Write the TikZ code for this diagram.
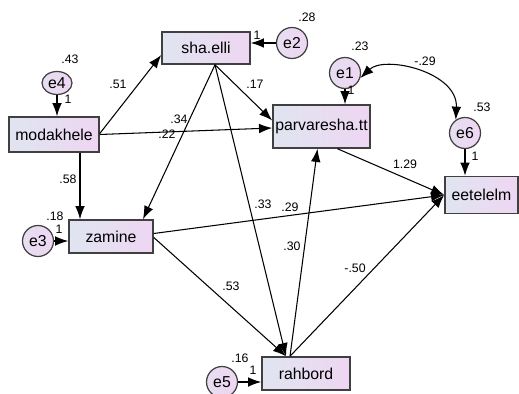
\documentclass[tikz,border=0pt]{standalone}
\usepackage{fontspec}
\setmainfont{Liberation Sans}
\usetikzlibrary{arrows.meta,calc,shapes.geometric}
\definecolor{fillL}{RGB}{224,229,240}
\definecolor{fillR}{RGB}{238,214,242}
\tikzstyle{var}=[rectangle, draw=black!75, line width=0.9pt, left color=fillL, right color=fillR, font=\fontsize{9}{10}\selectfont, inner sep=0pt]
\tikzstyle{err}=[circle, draw=black!75, line width=0.7pt, left color=fillL!50!fillR, right color=fillR, font=\fontsize{9}{10}\selectfont, inner sep=0pt, minimum size=0.62cm]
\tikzstyle{coef}=[font=\fontsize{7}{8}\selectfont, inner sep=0pt]
\tikzstyle{arrow}=[line width=0.6pt, -{Latex[length=7.5pt,width=5.5pt]}]

\begin{document}
\begin{tikzpicture}[x=0.02cm, y=-0.02cm]
	\useasboundingbox (0,0) rectangle (519,394);
	\begin{scope}
		\node (sha) at (206, 48)[var, minimum width=1.76cm, minimum height=0.64cm] {sha.elli};
		\node (mod) at (54, 134.5)[var, minimum width=1.8cm, minimum height=0.7cm] {modakhele};
		\node (parv) at (321.5, 126.5)[var, minimum width=1.94cm, minimum height=0.86cm] {parvaresha.tt};
		\node (eet) at (481.5, 195)[var, minimum width=1.46cm, minimum height=0.74cm] {eetelelm};
		\node (zam) at (111, 236.5)[var, minimum width=1.68cm, minimum height=0.66cm] {zamine};
		\node (rah) at (306, 373.5)[var, minimum width=1.76cm, minimum height=0.66cm] {rahbord};
	\end{scope}
	\begin{scope}
		\node (e4) at (57, 83)[err, ellipse, minimum width=0.6cm, minimum height=0.46cm] {e4};
		\node (e2) at (292, 43)[err] {e2};
		\node (e1) at (345, 73)[err] {e1};
		\node (e6) at (465, 133)[err] {e6};
		\node (e3) at (38, 241)[err] {e3};
		\node (e5) at (222, 382)[err] {e5};
	\end{scope}
	\begin{scope}
		\path [arrow] (e4) edge (e4 |- mod.north);
		\path [arrow] (e2) edge (e2 -| sha.east);
		\path [arrow] (e1) edge (e1 |- parv.north);
		\path [arrow] (e6) edge (e6 |- eet.north);
		\path [arrow] (e3) edge (e3 -| zam.west);
		\path [arrow] (e5) edge (e5 -| rah.west);
		\path [arrow] ($(mod.east)+(0,-1)$) edge ($(sha.west)+(0,7)$);
		\path [arrow] (mod.east) edge ($(parv.west)+(0,1.5)$);
		\path [arrow] ($(mod.south)+(26,0)$) edge ($(zam.north)+(-31,0)$);
		\path [arrow] ($(sha.south)+(9,0)$) edge ($(zam.north)+(32,0)$);
		\path [arrow] ($(sha.south)+(9,0)$) edge ($(parv.west)+(0,-6)$);
		\path [arrow] ($(sha.south)+(9,0)$) edge ($(rah.north)+(-20,0)$);
		\path [arrow] ($(zam.east)+(0,-3)$) edge (eet.west);
		\path [arrow] ($(zam.east)+(0,1)$) edge ($(rah.north)+(-20,0)$);
		\path [arrow] ($(rah.north)+(-16,0)$) edge ($(parv.south)+(-4,0)$);
		\path [arrow] ($(rah.north)+(-16,0)$) edge (eet.west);
		\path [arrow] ($(parv.south)+(16,0)$) edge (eet.west);
		\draw [arrow, {Latex[length=7.5pt,width=5.5pt]}-{Latex[length=7.5pt,width=5.5pt]}] (e1.-18) .. controls (385,55) and (458,72) .. (e6.125);
	\end{scope}
	\begin{scope}
		\node (c43) at (70, 59)[coef] {.43};
		\node (c1a) at (68, 99)[coef] {1};
		\node (c28) at (307, 17)[coef] {.28};
		\node (c1b) at (257, 35)[coef] {1};
		\node (c23) at (360, 46)[coef] {.23};
		\node (c1c) at (351, 90)[coef] {1};
		\node (cm29) at (425, 61)[coef] {-.29};
		\node (c53a) at (482, 107)[coef] {.53};
		\node (c1d) at (475, 156)[coef] {1};
		\node (c51) at (118, 84)[coef] {.51};
		\node (c34) at (179, 119)[coef] {.34};
		\node (c22) at (167, 134)[coef] {.22};
		\node (c17) at (255, 84)[coef] {.17};
		\node (c58) at (68, 179)[coef] {.58};
		\node (c18) at (55, 216)[coef] {.18};
		\node (c1e) at (59, 229)[coef] {1};
		\node (c33) at (263, 204)[coef] {.33};
		\node (c29) at (290, 207)[coef] {.29};
		\node (c129) at (405, 164)[coef] {1.29};
		\node (c30) at (292, 246)[coef] {.30};
		\node (cm50) at (355, 268)[coef] {-.50};
		\node (c53b) at (231, 286)[coef] {.53};
		\node (c16) at (240, 358)[coef] {.16};
		\node (c1f) at (253, 370)[coef] {1};
	\end{scope}
\end{tikzpicture}
\end{document}
